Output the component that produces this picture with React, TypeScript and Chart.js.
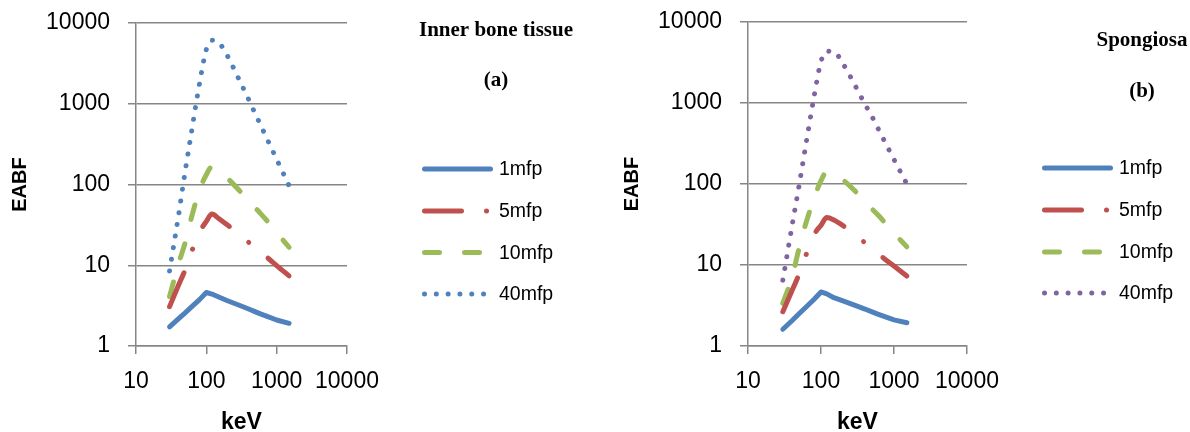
import { useEffect, useRef } from "react";
import { Chart, registerables } from "chart.js";

Chart.register(...registerables);

// Photon energies (keV) at which the build-up factors are plotted
const energies = [30, 40, 50, 60, 80, 100, 120, 150, 200, 300, 400, 500, 600, 800, 1000, 1500];

// Inner bone tissue – EABF at penetration depths of 1, 5, 10 and 40 mfp
const innerBone1mfp = [1.73, 2.17, 2.58, 2.98, 3.75, 4.6, 4.4, 4.05, 3.63, 3.17, 2.87, 2.65, 2.48, 2.26, 2.1, 1.91];
const innerBone5mfp = [3.07, 5.6, 8.8, 13.8, 25.7, 35, 43, 38, 31.5, 23.7, 19.2, 16.4, 14.4, 11.7, 9.9, 7.4];
const innerBone10mfp = [4.1, 10.3, 19, 36, 86, 132, 166, 144, 119, 83, 63.5, 51, 43, 32.4, 25.5, 16.7];
const innerBone40mfp = [8.5, 40, 145, 390, 1780, 4700, 6100, 5750, 3900, 1900, 1130, 740, 530, 310, 205, 97];

// Spongiosa – EABF at the same depths
const spongiosa1mfp = [1.61, 2.05, 2.5, 2.92, 3.75, 4.65, 4.4, 3.95, 3.6, 3.15, 2.86, 2.64, 2.47, 2.25, 2.1, 1.94];
const spongiosa5mfp = [2.65, 4.8, 7.7, 12.1, 23.5, 31, 38.5, 36, 30.6, 23.1, 18.8, 15.9, 13.8, 11.3, 9.7, 7.3];
const spongiosa10mfp = [3.36, 7.0, 16, 29.5, 66, 110, 141, 127, 112, 80, 60, 49, 41.7, 31.2, 24.7, 16.8];
const spongiosa40mfp = [6.5, 30, 95, 255, 1170, 3250, 4350, 4300, 3050, 1580, 965, 680, 490, 295, 200, 100];

const seriesNames = ["1mfp", "5mfp", "10mfp", "40mfp"];
const xTicks = [10, 100, 1000, 10000];
const yTicks = [1, 10, 100, 1000, 10000];

const SANS = "'Liberation Sans', Arial, sans-serif";
const SERIF = "'Liberation Serif', 'Times New Roman', serif";
const GRID = "#868686";
const LINE_W = 5;

const BLUE = "#4F81BD";
const RED = "#C0504D";
const GREEN = "#9BBB59";
const PURPLE = "#8064A2";

// solid, long dash-dot, long dash, round dot
const dashes: number[][] = [[], [37, 25, 0.01, 25], [15, 25], [0.01, 11.8]];
// the 1mfp curve is drawn with straight segments, the deeper ones smoothed
const smoothed = [false, true, true, true];

type Panel = {
  left: number;
  padTop: number;
  padRight: number;
  yAxisWidth: number;
  yTitlePad: number;
  values: number[][];
  colors: string[];
  title: string;
  tag: string;
  titleX: number;
  titleY: number;
  tagY: number;
  legendX0: number;
  legendX1: number;
  legendTextX: number;
  legendY: number[];
};

const panels: Panel[] = [
  {
    left: 0,
    padTop: 23,
    padRight: 248,
    yAxisWidth: 136,
    yTitlePad: 8,
    values: [innerBone1mfp, innerBone5mfp, innerBone10mfp, innerBone40mfp],
    colors: [BLUE, RED, GREEN, BLUE],
    title: "Inner bone tissue",
    tag: "(a)",
    titleX: 496,
    titleY: 31,
    tagY: 81,
    legendX0: 422,
    legendX1: 493,
    legendTextX: 499,
    legendY: [169, 211, 252.5, 294],
  },
  {
    left: 595,
    padTop: 22,
    padRight: 223,
    yAxisWidth: 153,
    yTitlePad: 25,
    values: [spongiosa1mfp, spongiosa5mfp, spongiosa10mfp, spongiosa40mfp],
    colors: [BLUE, RED, GREEN, PURPLE],
    title: "Spongiosa",
    tag: "(b)",
    titleX: 547,
    titleY: 41,
    tagY: 92,
    legendX0: 447,
    legendX1: 518,
    legendTextX: 524,
    legendY: [168, 210, 252, 293],
  },
];

function ChartPanel({ panel }: { panel: Panel }) {
  const ref = useRef<HTMLCanvasElement | null>(null);

  useEffect(() => {
    const canvas = ref.current;
    if (!canvas) return;

    const sideLegend = {
      id: "sideLegend",
      afterDraw(chart: Chart) {
        const ctx = chart.ctx;
        ctx.save();
        seriesNames.forEach((name, i) => {
          const y = panel.legendY[i];
          ctx.beginPath();
          ctx.setLineDash(dashes[i]);
          ctx.lineDashOffset = 0;
          ctx.lineCap = "round";
          ctx.lineWidth = LINE_W;
          ctx.strokeStyle = panel.colors[i];
          ctx.moveTo(panel.legendX0 + LINE_W / 2, y);
          ctx.lineTo(panel.legendX1 - LINE_W / 2, y);
          ctx.stroke();
          ctx.setLineDash([]);
          ctx.fillStyle = "#000";
          ctx.font = `19.5px ${SANS}`;
          ctx.textAlign = "left";
          ctx.textBaseline = "middle";
          ctx.fillText(name, panel.legendTextX, y + 1);
        });
        ctx.fillStyle = "#000";
        ctx.font = `bold 21px ${SERIF}`;
        ctx.textAlign = "center";
        ctx.textBaseline = "middle";
        ctx.fillText(panel.title, panel.titleX, panel.titleY);
        ctx.fillText(panel.tag, panel.titleX, panel.tagY);
        ctx.restore();
      },
    };

    const chart = new Chart(canvas, {
      type: "line",
      data: {
        datasets: seriesNames.map((name, i) => ({
          label: name,
          data: energies.map((e, j) => ({ x: e, y: panel.values[i][j] })),
          borderColor: panel.colors[i],
          backgroundColor: panel.colors[i],
          borderWidth: LINE_W,
          borderDash: dashes[i],
          borderCapStyle: "round" as const,
          borderJoinStyle: "round" as const,
          cubicInterpolationMode: smoothed[i] ? ("monotone" as const) : ("default" as const),
          tension: 0,
          pointRadius: 0,
          pointHoverRadius: 0,
          fill: false,
        })),
      },
      options: {
        animation: false,
        responsive: false,
        devicePixelRatio: 1,
        events: [],
        layout: { padding: { top: panel.padTop, right: panel.padRight, left: 0, bottom: 0 } },
        plugins: {
          legend: { display: false },
          tooltip: { enabled: false },
          title: { display: false },
        },
        scales: {
          x: {
            type: "logarithmic",
            position: "bottom",
            min: 10,
            max: 10000,
            afterBuildTicks: (s: any) => {
              s.ticks = xTicks.map((v) => ({ value: v, major: true }));
            },
            afterFit: (s: any) => {
              s.height = 86;
              s.paddingLeft = 0;
              s.paddingRight = 0;
            },
            ticks: {
              callback: (v: any) => String(v),
              font: { family: SANS, size: 23 },
              color: "#000",
              padding: 14,
              maxRotation: 0,
              autoSkip: false,
            },
            grid: {
              drawOnChartArea: false,
              drawTicks: true,
              tickLength: 8,
              color: GRID,
              lineWidth: 1.5,
            },
            border: { color: GRID, width: 1.5 },
            title: {
              display: true,
              text: "keV",
              color: "#000",
              font: { family: SANS, size: 23, weight: "bold", lineHeight: 0.85 },
              padding: 0,
            },
          },
          y: {
            type: "logarithmic",
            position: "left",
            min: 1,
            max: 10000,
            afterBuildTicks: (s: any) => {
              s.ticks = yTicks.map((v) => ({ value: v, major: true }));
            },
            afterFit: (s: any) => {
              s.width = panel.yAxisWidth;
              s.paddingTop = 0;
              s.paddingBottom = 0;
            },
            ticks: {
              callback: (v: any) => String(v),
              font: { family: SANS, size: 23 },
              color: "#000",
              padding: 18,
              autoSkip: false,
            },
            grid: {
              drawOnChartArea: true,
              drawTicks: true,
              tickLength: 8,
              color: GRID,
              lineWidth: 1.5,
            },
            border: { color: GRID, width: 1.5 },
            title: {
              display: true,
              text: "EABF",
              color: "#000",
              font: { family: SANS, size: 20, weight: "bold" },
              padding: { top: panel.yTitlePad, bottom: 0 },
            },
          },
        },
      },
      plugins: [sideLegend],
    });

    return () => chart.destroy();
  }, [panel]);

  return (
    <canvas
      ref={ref}
      width={595}
      height={432}
      style={{ position: "absolute", left: panel.left, top: 0, width: 595, height: 432 }}
    />
  );
}

export default function App() {
  return (
    <div
      style={{
        position: "absolute",
        left: 0,
        top: 0,
        width: 1190,
        height: 432,
        background: "#fff",
        overflow: "hidden",
      }}
    >
      {panels.map((p) => (
        <ChartPanel key={p.tag} panel={p} />
      ))}
    </div>
  );
}
